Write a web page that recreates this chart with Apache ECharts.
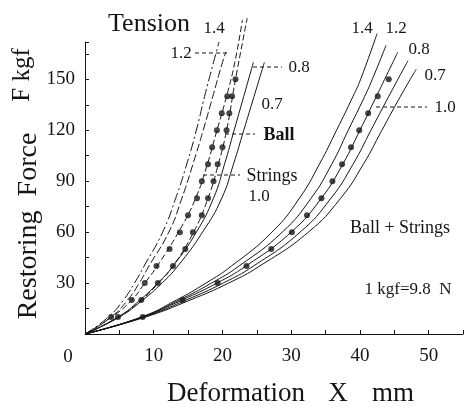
<!DOCTYPE html>
<html>
<head>
<meta charset="utf-8">
<title>Restoring force vs deformation</title>
<script src="https://cdn.jsdelivr.net/npm/echarts@6/dist/echarts.min.js"></script>
<style>
  html, body { margin: 0; padding: 0; background: #fff; }
  #main { width: 467px; height: 407px; }
</style>
</head>
<body>
<div id="main"></div>
<script>
// axis ticks
var xTicks = [10, 20, 30, 40, 50];
var yTicks = [30, 60, 90, 120, 150];

// strings alone (left family), force F kgf -> deformation X mm
var s14F = [0, 10, 20, 30, 40, 60, 80, 100, 120, 140, 160, 172];
var s14X = [0, 3.4, 5.6, 7.2, 8.6, 11.3, 13.2, 14.8, 16.2, 17.4, 18.7, 19.5];
var s12F = [0, 10, 20, 30, 40, 60, 80, 100, 120, 140, 160, 166];
var s12X = [0, 3.8, 6.2, 7.9, 9.3, 12.2, 14.1, 15.7, 17.2, 18.6, 20.0, 20.5];
var s10F = [0, 10, 20, 30, 40, 60, 80, 100, 120, 140, 160, 185];
var s10X = [0, 3.9, 6.8, 8.7, 10.5, 13.6, 16.1, 17.8, 19.2, 20.6, 21.8, 22.9];
var s08F = [0, 10, 20, 30, 40, 60, 80, 100, 120, 140, 160];
var s08X = [0, 4.8, 8.0, 10.6, 12.8, 16.2, 18.7, 20.3, 21.7, 23.1, 24.5];
var s07F = [0, 10, 20, 30, 40, 60, 80, 100, 120, 140, 160];
var s07X = [0, 5.0, 8.4, 11.2, 13.5, 17.1, 19.9, 21.6, 23.1, 24.6, 26.1];
// ball alone
var ballF = [0, 10, 20, 30, 40, 60, 80, 100, 120, 150, 186];
var ballX = [0, 4.9, 8.2, 10.7, 12.8, 15.8, 17.9, 19.4, 20.6, 21.9, 23.6];

// measured points
var strDotF = [10, 20, 30, 40, 50, 60, 70, 80, 90, 100, 110, 120, 130, 140];
var strDotX = [3.8, 6.8, 8.7, 10.4, 12.3, 13.8, 15.0, 16.3, 17.0, 17.9, 18.5, 19.2, 19.9, 20.7];
var ballDotF = [10, 20, 30, 40, 50, 60, 70, 80, 90, 100, 110, 120, 130, 140, 150];
var ballDotX = [4.8, 8.2, 10.6, 12.8, 14.6, 15.7, 17.0, 17.9, 18.7, 19.3, 20.0, 20.6, 21.0, 21.4, 21.9];

// ball + strings (right family)
var bs14F = [0, 10, 20, 30, 40, 60, 80, 100, 120, 140, 150, 177];
var bs14X = [0, 8.2, 13.3, 17.6, 21.3, 27.2, 31.2, 34.1, 36.6, 39.0, 40.1, 42.5];
var bs12F = [0, 10, 20, 30, 40, 60, 80, 100, 120, 140, 150, 170];
var bs12X = [0, 8.3, 13.7, 18.4, 22.4, 28.7, 32.9, 35.9, 38.3, 40.7, 41.8, 43.8];
var bs10F = [0, 10, 20, 30, 40, 60, 80, 100, 120, 140, 150, 166];
var bs10X = [0, 8.4, 14.1, 19.2, 23.4, 30.0, 34.4, 37.5, 40.0, 42.4, 43.6, 45.5];
var bs08F = [0, 10, 20, 30, 40, 60, 80, 100, 120, 140, 161];
var bs08X = [0, 8.6, 14.7, 20.1, 24.5, 31.3, 35.8, 39.0, 41.6, 44.2, 47.0];
var bs07F = [0, 10, 20, 30, 40, 60, 80, 100, 120, 140, 156];
var bs07X = [0, 8.8, 15.3, 20.9, 25.4, 32.5, 37.2, 40.5, 43.2, 45.9, 48.2];
var bsDotF = [10, 20, 30, 40, 50, 60, 70, 80, 90, 100, 110, 120, 130, 140, 150];
var bsDotX = [8.4, 14.2, 19.3, 23.5, 27.1, 30.1, 32.3, 34.4, 36.0, 37.4, 38.7, 39.9, 41.2, 42.6, 44.2];

var serif = 'Liberation Serif';
var ink = '#151515';

function pairs(xs, fs) {
  var out = [];
  for (var i = 0; i < xs.length; i++) out.push([xs[i], fs[i]]);
  return out;
}
function curve(xs, fs, dash) {
  return {
    type: 'line', data: pairs(xs, fs), smooth: 0.5, symbol: 'none', clip: false,
    lineStyle: { color: ink, width: 1, type: dash || 'solid' }, z: 2
  };
}
function dots(xs, fs) {
  return {
    type: 'scatter', data: pairs(xs, fs), symbol: 'circle', symbolSize: 6,
    itemStyle: { color: ink }, z: 3
  };
}
function txt(x, y, s, size, extra) {
  var st = { text: s, x: x, y: y, font: (extra && extra.bold ? 'bold ' : '') + size + 'px "' + serif + '"',
    fill: ink, align: 'center', verticalAlign: 'middle' };
  var el = { type: 'text', style: st };
  if (extra && extra.rotate) { el.x = x; el.y = y; st.x = 0; st.y = 0; el.rotation = extra.rotate; }
  return el;
}
function leader(x1, y, x2) {
  return { type: 'line', shape: { x1: x1, y1: y, x2: x2, y2: y },
    style: { stroke: ink, lineWidth: 1, lineDash: [4, 3] } };
}

var chart = echarts.init(document.getElementById('main'));
var option = {
  animation: false,
  backgroundColor: '#fff',
  grid: { left: 85, right: 4, top: 42, bottom: 73 },
  xAxis: {
    type: 'value', min: 0, max: 55, interval: 5,
    axisLine: { lineStyle: { color: ink, width: 1 } },
    axisTick: { inside: true, length: 4, lineStyle: { color: ink } },
    splitLine: { show: false },
    axisLabel: {
      margin: 13, color: ink, fontFamily: serif, fontSize: 19,
      formatter: function (v) { return xTicks.indexOf(v) >= 0 ? String(v) : ''; }
    }
  },
  yAxis: {
    type: 'value', min: 0, max: 172, interval: 15,
    axisLine: { show: true, lineStyle: { color: ink, width: 1 } },
    axisTick: { show: true, inside: true, length: 4, lineStyle: { color: ink } },
    splitLine: { show: false },
    axisLabel: {
      margin: 10, color: ink, fontFamily: serif, fontSize: 19,
      formatter: function (v) { return yTicks.indexOf(v) >= 0 ? String(v) : ''; }
    }
  },
  series: [
    curve(s14X, s14F, [10, 3, 2, 3]),
    curve(s12X, s12F, [8, 3]),
    curve(s10X, s10F, [6, 3]),
    curve(ballX, ballF, [6, 3]),
    curve(s08X, s08F),
    curve(s07X, s07F),
    dots(strDotX, strDotF),
    dots(ballDotX, ballDotF),
    curve(bs14X, bs14F),
    curve(bs12X, bs12F),
    curve(bs10X, bs10F),
    curve(bs08X, bs08F),
    curve(bs07X, bs07F),
    dots(bsDotX, bsDotF)
  ],
  graphic: [
    txt(149, 24, 'Tension', 26),
    txt(214, 29, '1.4', 17),
    txt(181, 54, '1.2', 17),
    leader(195, 53, 229),
    txt(299, 68, '0.8', 17),
    leader(253, 67, 282),
    txt(272, 105, '0.7', 17),
    txt(279, 135, 'Ball', 18, { bold: true }),
    leader(225, 134, 255),
    txt(272, 176, 'Strings', 18),
    leader(203, 175, 240),
    txt(259, 197, '1.0', 17),
    txt(362, 29, '1.4', 17),
    txt(396, 29, '1.2', 17),
    txt(419, 50, '0.8', 17),
    txt(435, 76, '0.7', 17),
    txt(445, 108, '1.0', 17),
    leader(376, 107, 427),
    txt(400, 228, 'Ball + Strings', 18),
    txt(408, 290, '1 kgf=9.8  N', 17),
    txt(68, 357, '0', 19),
    txt(236, 394, 'Deformation', 27),
    txt(338, 394, 'X', 27),
    txt(393, 394, 'mm', 27),
    txt(29, 226, 'Restoring  Force', 28, { rotate: Math.PI / 2 }),
    txt(22, 75, 'F kgf', 25, { rotate: Math.PI / 2 })
  ]
};
chart.setOption(option);
</script>
</body>
</html>
